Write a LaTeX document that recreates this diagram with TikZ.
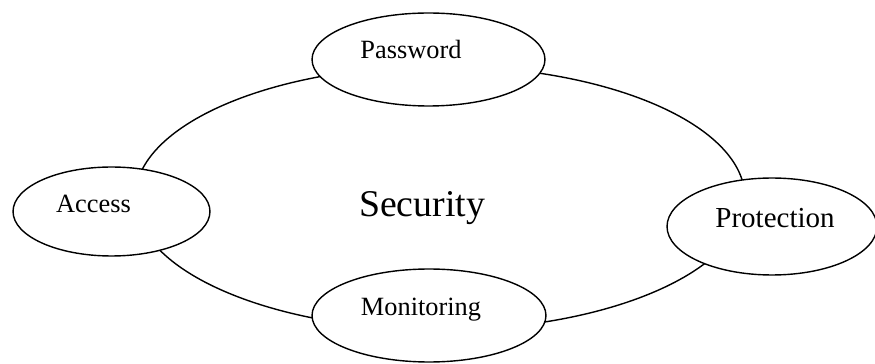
\documentclass[tikz,border=0pt]{standalone}
\usepackage{fontspec}
\setmainfont{Liberation Serif}
\usepackage{tikz}
\usetikzlibrary{shapes.geometric}

\begin{document}
\begin{tikzpicture}[x=0.02cm, y=-0.02cm, line width=0.8pt,
    every node/.style={inner sep=0pt},
    bubble/.style={draw, ellipse, fill=white},
    lbl/.style={anchor=base, font=\fontsize{15}{18}\selectfont}]
  \useasboundingbox (0,0) rectangle (875,364);
  % the big ring
  \node[draw, ellipse, minimum width=12.2cm, minimum height=5.28cm] (sec) at (440,198) {};
  \node[anchor=base, font=\fontsize{21.5}{26}\selectfont] (sec-t) at (422,217) {Security};
  % the four parts sitting on the ring
  \node[bubble, minimum width=4.66cm, minimum height=1.86cm] (pw) at (428.5,59.5) {};
  \node[bubble, minimum width=3.94cm, minimum height=1.78cm] (acc) at (111.5,211.5) {};
  \node[bubble, minimum width=4.2cm, minimum height=1.94cm] (prot) at (772,226.5) {};
  \node[bubble, minimum width=4.68cm, minimum height=1.86cm] (mon) at (429,315.5) {};
  \node[lbl] (pw-t) at (411,59) {Password};
  \node[lbl] (acc-t) at (93.5,213) {Access};
  \node[lbl, font=\fontsize{16.5}{20}\selectfont] (prot-t) at (775,228) {Protection};
  \node[lbl] (mon-t) at (421,316) {Monitoring};
\end{tikzpicture}
\end{document}
